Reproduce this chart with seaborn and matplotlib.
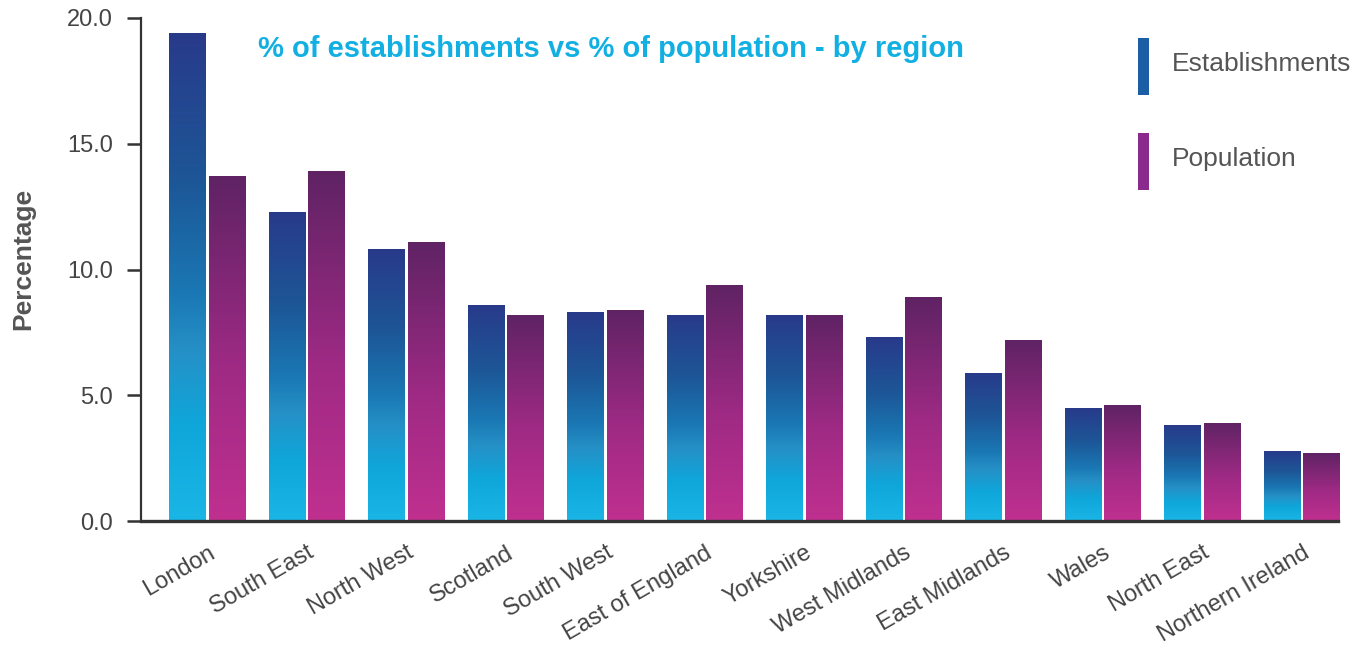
import numpy as np
import pandas as pd
import matplotlib
matplotlib.use("Agg")
import matplotlib.pyplot as plt
from matplotlib.colors import LinearSegmentedColormap
from matplotlib.patches import Rectangle
import seaborn as sns

regions = ["London", "South East", "North West", "Scotland", "South West",
           "East of England", "Yorkshire", "West Midlands", "East Midlands",
           "Wales", "North East", "Northern Ireland"]
establishments = [19.4, 12.3, 10.8, 8.6, 8.3, 8.2, 8.2, 7.3, 5.9, 4.5, 3.8, 2.8]
population = [13.7, 13.9, 11.1, 8.2, 8.4, 9.4, 8.2, 8.9, 7.2, 4.6, 3.9, 2.7]
series_names = ["Establishments", "Population"]
y_ticks = [0, 5, 10, 15, 20]

df = pd.DataFrame({
    "region": regions * 2,
    "series": [series_names[0]] * len(regions) + [series_names[1]] * len(regions),
    "value": establishments + population,
})

sns.set_theme(style="white")
plt.rcParams["font.family"] = ["Liberation Sans", "DejaVu Sans"]

# vertical gradients (bottom -> top) for each series
est_cmap = LinearSegmentedColormap.from_list(
    "est", [(0.0, "#1AB6E6"), (0.2, "#0FA6DA"), (0.35, "#2590C6"),
            (0.47, "#1A77B3"), (0.7, "#1D5697"), (1.0, "#283A8A")])
pop_cmap = LinearSegmentedColormap.from_list(
    "pop", [(0.0, "#C0308F"), (0.45, "#9E2A84"), (1.0, "#5F2364")])
solid = {"Establishments": "#1B5EA6", "Population": "#8A2A8C"}
text_grey = "#444444"

W, H = 1371, 648
fig = plt.figure(figsize=(W / 100, H / 100), dpi=100)
ax = fig.add_axes([141 / W, 1 - 521 / H, 1197 / W, 503 / H])

sns.barplot(data=df, x="region", y="value", hue="series", order=regions,
            hue_order=series_names, palette=solid, width=0.8, gap=0.075,
            ax=ax, legend=False, saturation=1)

grad = np.linspace(0, 1, 256).reshape(-1, 1)
n = len(regions)
for i, patch in enumerate(ax.patches[:2 * n]):
    cmap = est_cmap if i < n else pop_cmap
    x0, w, h = patch.get_x(), patch.get_width(), patch.get_height()
    img = ax.imshow(grad, cmap=cmap, origin="lower", aspect="auto",
                    extent=[x0, x0 + w, 0, h], zorder=patch.get_zorder(),
                    interpolation="bicubic")
    img.set_clip_path(patch)
    patch.set_facecolor("none")
    patch.set_edgecolor("none")

ax.set_xlim(-0.668, 11.362)
ax.set_ylim(0, 20)
ax.set_yticks(y_ticks)
ax.set_yticklabels([f"{t:.1f}" for t in y_ticks])

for s in ["top", "right"]:
    ax.spines[s].set_visible(False)
ax.spines["left"].set_color("#333333")
ax.spines["left"].set_linewidth(1.6)
ax.spines["bottom"].set_color("#333333")
ax.spines["bottom"].set_linewidth(2.4)

ax.tick_params(axis="y", direction="out", length=10, width=1.8, color="#333333",
               labelsize=17, labelcolor=text_grey, pad=10, left=True)
ax.tick_params(axis="x", length=0, labelsize=17, labelcolor=text_grey, pad=15)
for lbl in ax.get_xticklabels():
    lbl.set_rotation(30)
    lbl.set_ha("right")
    lbl.set_rotation_mode("anchor")

ax.set_xlabel("")
ax.set_ylabel("Percentage", fontsize=19, fontweight="bold", color="#555555")
ax.yaxis.set_label_coords((35 - 141) / 1197, (521 - 259) / 503)

ax.text((258 - 141) / 1197, (521 - 49) / 503,
        "% of establishments vs % of population - by region",
        transform=ax.transAxes, ha="left", va="center", fontsize=21,
        fontweight="bold", color="#12B0E2")

# legend: tall narrow swatches with labels
for k, name in enumerate(series_names):
    top = 38 + 95 * k
    fig.add_artist(Rectangle((1138 / W, 1 - (top + 57) / H), 11 / W, 57 / H,
                             transform=fig.transFigure, facecolor=solid[name],
                             edgecolor="none"))
    fig.text(1172 / W, 1 - (top + 26) / H, name, ha="left", va="center",
             fontsize=19, color="#555555")

fig.savefig("out.png", dpi=100)
